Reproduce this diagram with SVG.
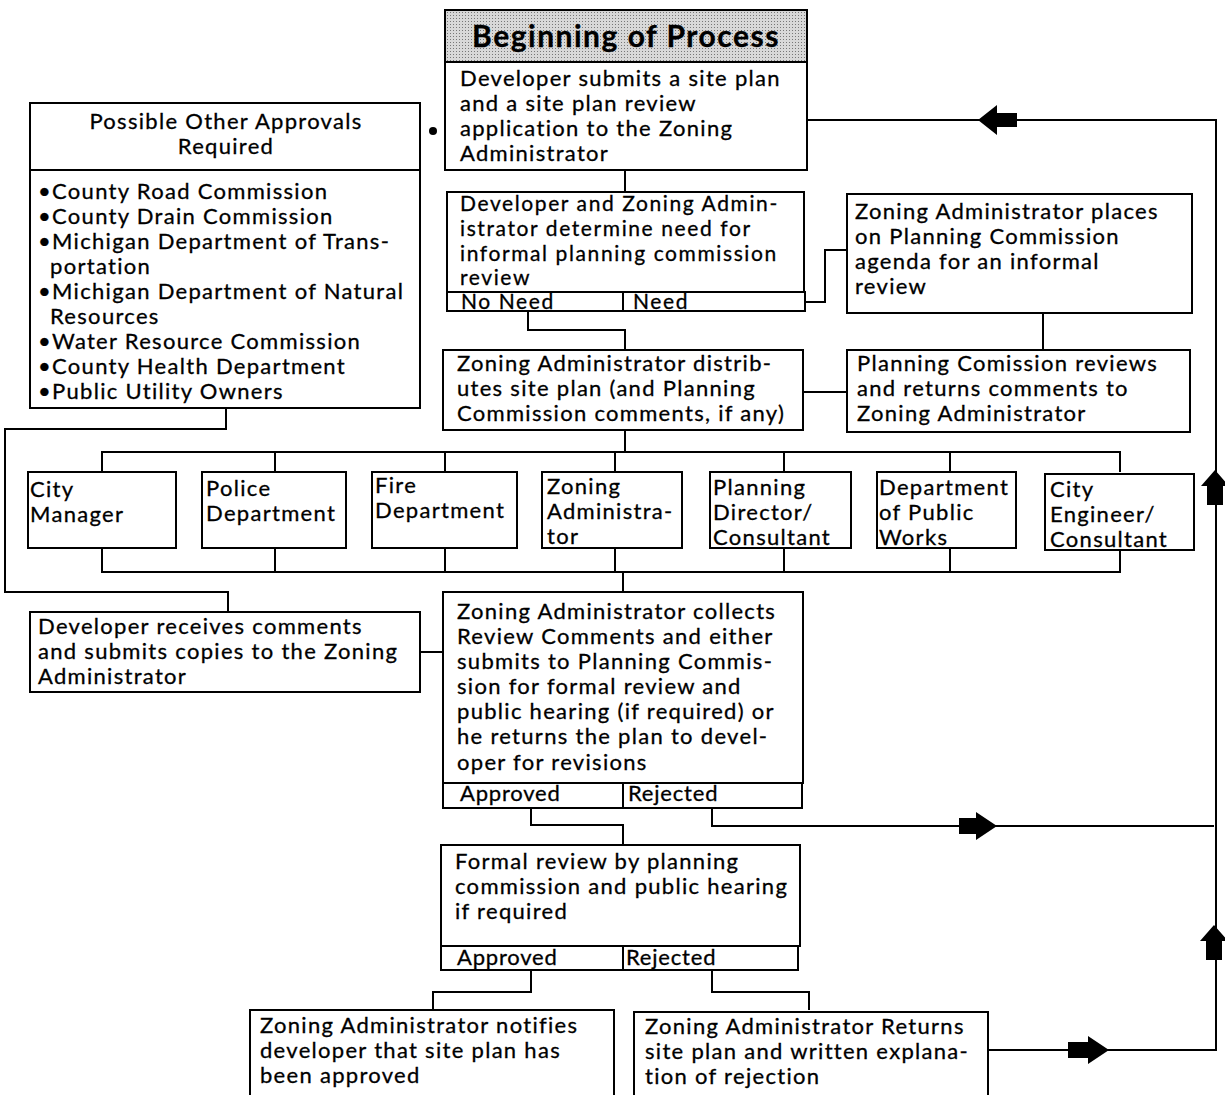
<svg xmlns="http://www.w3.org/2000/svg" width="1225" height="1095" viewBox="0 0 1225 1095">
<style>
  .box { fill: #fff; stroke: #000; stroke-width: 2; }
  .hdr { fill: url(#dots); stroke: #000; stroke-width: 2; }
  .ln { fill: none; stroke: #000; stroke-width: 2; }
  text { font-family: Lato, "Open Sans", "Liberation Sans", sans-serif; font-size: 22px; letter-spacing: 1.3px; fill: #000; stroke: #000; stroke-width: 0.3; }
  .sm { font-size: 22px; letter-spacing: 0.8px; }
  .tight { font-size: 21px; letter-spacing: 1.6px; }
  .title { font-size: 30px; font-weight: bold; letter-spacing: 1.5px; }
  .arr { fill: #000; }
</style>
<defs>
  <pattern id="dots" width="3" height="3" patternUnits="userSpaceOnUse">
    <rect width="3" height="3" fill="#d8d8d8"/>
    <rect width="1" height="1" fill="#777"/>
  </pattern>
</defs>
<rect width="1225" height="1095" fill="#fff"/>

<g id="connectors">
  <path class="ln" d="M625,170 V192"/>
  <path class="ln" d="M805,302 H825 V250 H847"/>
  <path class="ln" d="M528,311 V330 H625 V350"/>
  <path class="ln" d="M1043,313 V350"/>
  <path class="ln" d="M803,392 H847"/>
  <path class="ln" d="M625,430 V452"/>
  <path class="ln" d="M102,472 V452 H1120 V472"/>
  <path class="ln" d="M275,452 V472 M445,452 V472 M615,452 V472 M784,452 V472 M950,452 V472"/>
  <path class="ln" d="M102,548 V572 H1120 V548"/>
  <path class="ln" d="M275,548 V572 M445,548 V572 M615,548 V572 M784,548 V572 M950,548 V572"/>
  <path class="ln" d="M623,572 V592"/>
  <path class="ln" d="M226,408 V429 H5 V592 H228 V612"/>
  <path class="ln" d="M420,652 H443"/>
  <path class="ln" d="M531,808 V825 H623 V845"/>
  <path class="ln" d="M712,808 V826 H1214"/>
  <path class="ln" d="M807,120 H1216 V1050 H988"/>
  <path class="ln" d="M531,970 V992 H433 V1010"/>
  <path class="ln" d="M712,970 V992 H809 V1010"/>
  <circle cx="433" cy="131" r="4" fill="#000"/>
  <path class="arr" d="M978,120 L997,105 V113 H1017 V127 H997 V135 Z"/>
  <path class="arr" d="M997,826 L976,812 V818 H959 V834 H976 V840 Z"/>
  <path class="arr" d="M1109,1050 L1088,1036 V1042 H1068 V1058 H1088 V1064 Z"/>
  <path class="arr" d="M1215,470 L1201,486 H1207 V505 H1223 V486 H1229 Z"/>
  <path class="arr" d="M1214,925 L1200,941 H1206 V960 H1222 V941 H1228 Z"/>
</g>

<g id="n-begin">
  <rect class="hdr" x="445" y="10" width="362" height="52"/>
  <text class="title" x="626" y="47" text-anchor="middle">Beginning of Process</text>
  <rect class="box" x="445" y="62" width="362" height="108"/>
  <text x="460" y="86">Developer submits a site plan</text>
  <text x="460" y="111">and a site plan review</text>
  <text x="460" y="136">application to the Zoning</text>
  <text x="460" y="161">Administrator</text>
</g>

<g id="n-other">
  <rect class="box" x="30" y="103" width="390" height="305"/>
  <path class="ln" d="M30,170 H420"/>
  <text x="226" y="129" text-anchor="middle">Possible Other Approvals</text>
  <text x="226" y="154" text-anchor="middle">Required</text>
  <text x="38" y="199">•County Road Commission</text>
  <text x="38" y="224">•County Drain Commission</text>
  <text x="38" y="249">•Michigan Department of Trans-</text>
  <text x="50" y="274">portation</text>
  <text x="38" y="299">•Michigan Department of Natural</text>
  <text x="50" y="324">Resources</text>
  <text x="38" y="349">•Water Resource Commission</text>
  <text x="38" y="374">•County Health Department</text>
  <text x="38" y="399">•Public Utility Owners</text>
</g>

<g id="n-determine">
  <rect class="box" x="447" y="192" width="357" height="100"/>
  <text class="tight" x="460" y="211">Developer and Zoning Admin-</text>
  <text class="tight" x="460" y="236">istrator determine need for</text>
  <text class="tight" x="460" y="261">informal planning commission</text>
  <text class="tight" x="460" y="285">review</text>
  <rect class="box" x="447" y="292" width="358" height="19"/>
  <path class="ln" d="M623,292 V311"/>
  <text class="tight" x="461" y="309">No Need</text>
  <text class="tight" x="633" y="309">Need</text>
</g>

<g id="n-places">
  <rect class="box" x="847" y="194" width="345" height="119"/>
  <text x="855" y="219">Zoning Administrator places</text>
  <text x="855" y="244">on Planning Commission</text>
  <text x="855" y="269">agenda for an informal</text>
  <text x="855" y="294">review</text>
</g>

<g id="n-distributes">
  <rect class="box" x="443" y="350" width="360" height="80"/>
  <text x="457" y="371">Zoning Administrator distrib-</text>
  <text x="457" y="396">utes site plan (and Planning</text>
  <text x="457" y="421">Commission comments, if any)</text>
</g>

<g id="n-pcreviews">
  <rect class="box" x="847" y="350" width="343" height="82"/>
  <text x="857" y="371">Planning Comission reviews</text>
  <text x="857" y="396">and returns comments to</text>
  <text x="857" y="421">Zoning Administrator</text>
</g>

<g id="n-citymanager">
  <rect class="box" x="28" y="472" width="148" height="76"/>
  <text x="30" y="497">City</text>
  <text x="30" y="522">Manager</text>
</g>
<g id="n-police">
  <rect class="box" x="202" y="472" width="144" height="76"/>
  <text x="206" y="496">Police</text>
  <text x="206" y="521">Department</text>
</g>
<g id="n-fire">
  <rect class="box" x="372" y="472" width="145" height="76"/>
  <text x="375" y="493">Fire</text>
  <text x="375" y="518">Department</text>
</g>
<g id="n-zoning">
  <rect class="box" x="542" y="472" width="140" height="76"/>
  <text x="547" y="494">Zoning</text>
  <text x="547" y="519">Administra-</text>
  <text x="547" y="544">tor</text>
</g>
<g id="n-planning">
  <rect class="box" x="710" y="472" width="141" height="76"/>
  <text x="713" y="495">Planning</text>
  <text x="713" y="520">Director/</text>
  <text x="713" y="545">Consultant</text>
</g>
<g id="n-dpw">
  <rect class="box" x="877" y="472" width="139" height="76"/>
  <text x="879" y="495">Department</text>
  <text x="879" y="520">of Public</text>
  <text x="879" y="545">Works</text>
</g>
<g id="n-engineer">
  <rect class="box" x="1045" y="474" width="149" height="76"/>
  <text x="1050" y="497">City</text>
  <text x="1050" y="522">Engineer/</text>
  <text x="1050" y="547">Consultant</text>
</g>

<g id="n-devreceives">
  <rect class="box" x="30" y="612" width="390" height="80"/>
  <text x="38" y="634">Developer receives comments</text>
  <text x="38" y="659">and submits copies to the Zoning</text>
  <text x="38" y="684">Administrator</text>
</g>

<g id="n-collects">
  <rect class="box" x="443" y="592" width="360" height="191"/>
  <text x="457" y="619">Zoning Administrator collects</text>
  <text x="457" y="644">Review Comments and either</text>
  <text x="457" y="669">submits to Planning Commis-</text>
  <text x="457" y="694">sion for formal review and</text>
  <text x="457" y="719">public hearing (if required) or</text>
  <text x="457" y="744">he returns the plan to devel-</text>
  <text x="457" y="770">oper for revisions</text>
  <rect class="box" x="443" y="783" width="359" height="25"/>
  <path class="ln" d="M623,783 V808"/>
  <text class="sm" x="460" y="801">Approved</text>
  <text class="sm" x="628" y="801">Rejected</text>
</g>

<g id="n-formal">
  <rect class="box" x="441" y="845" width="359" height="101"/>
  <text x="455" y="869">Formal review by planning</text>
  <text x="455" y="894">commission and public hearing</text>
  <text x="455" y="919">if required</text>
  <rect class="box" x="441" y="946" width="357" height="24"/>
  <path class="ln" d="M623,946 V970"/>
  <text class="sm" x="457" y="965">Approved</text>
  <text class="sm" x="626" y="965">Rejected</text>
</g>

<g id="n-approved">
  <rect class="box" x="250" y="1010" width="364" height="90"/>
  <text x="260" y="1033">Zoning Administrator notifies</text>
  <text x="260" y="1058">developer that site plan has</text>
  <text x="260" y="1083">been approved</text>
</g>

<g id="n-rejected">
  <rect class="box" x="634" y="1012" width="354" height="88"/>
  <text x="645" y="1034">Zoning Administrator Returns</text>
  <text x="645" y="1059">site plan and written explana-</text>
  <text x="645" y="1084">tion of rejection</text>
</g>
</svg>
